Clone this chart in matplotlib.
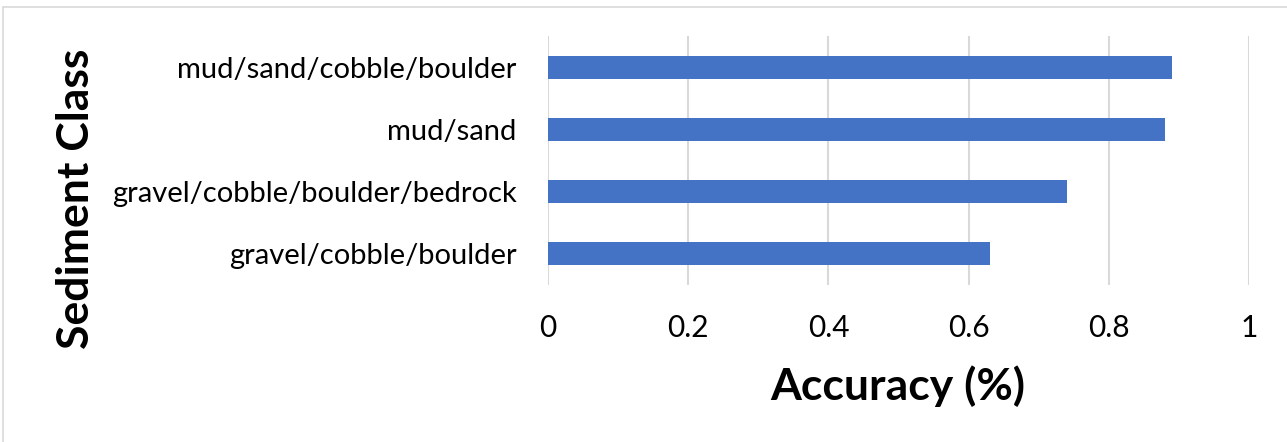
import matplotlib
matplotlib.use("Agg")
import matplotlib.pyplot as plt
from matplotlib.patches import Rectangle

categories = ["gravel/cobble/boulder", "gravel/cobble/boulder/bedrock", "mud/sand", "mud/sand/cobble/boulder"]
accuracy = [0.63, 0.74, 0.88, 0.89]
xticks = [0, 0.2, 0.4, 0.6, 0.8, 1.0]
xtick_labels = ["0", "0.2", "0.4", "0.6", "0.8", "1"]

W, H, DPI = 1287, 442, 100
plt.rcParams["font.family"] = ["Lato", "DejaVu Sans"]

fig = plt.figure(figsize=(W / DPI, H / DPI), dpi=DPI)
fig.patch.set_facecolor("white")

# thin grey chart-area border
fig.patches.append(Rectangle((3 / W, -0.05), 1.1, 1.05 - 7 / H, transform=fig.transFigure,
                             fill=False, edgecolor="#d9d9d9", linewidth=1.2))

ax = fig.add_axes([548 / W, 1 - 285 / H, 701 / W, 249 / H])
y = range(len(categories))
ax.barh(y, accuracy, height=0.37, color="#4472C4", zorder=3)

ax.set_xlim(0, 1)
ax.set_ylim(-0.5, len(categories) - 0.5)
ax.set_xticks(xticks)
ax.set_xticklabels(xtick_labels, fontsize=21.5)
ax.set_yticks(list(y))
ax.set_yticklabels(categories, fontsize=21)
ax.tick_params(axis="both", length=0, colors="black")
ax.tick_params(axis="x", pad=21)
ax.tick_params(axis="y", pad=22.5)
ax.grid(axis="x", color="#d9d9d9", linewidth=1.5, zorder=0)
for s in ax.spines.values():
    s.set_visible(False)

fig.text(898 / W, 1 - 386 / H, "Accuracy (%)", fontsize=32, fontweight="bold",
         ha="center", va="center")
fig.text(76.5 / W, 1 - 199 / H, "Sediment Class", rotation=90, fontsize=32,
         fontweight="bold", ha="center", va="center")

fig.savefig("out.png", dpi=DPI)
